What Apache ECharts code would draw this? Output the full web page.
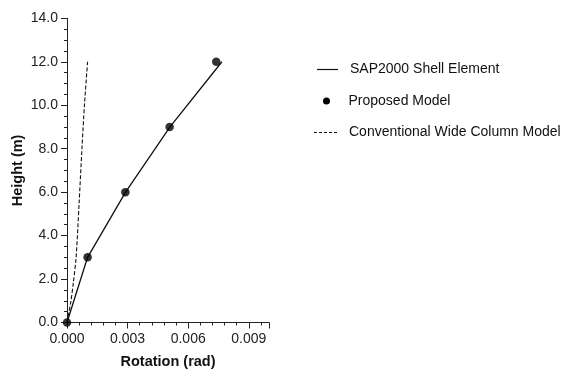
<!DOCTYPE html>
<html><head><meta charset="utf-8">
<script src="https://cdn.jsdelivr.net/npm/echarts@6/dist/echarts.min.js"></script>
<style>html,body{margin:0;padding:0;background:#fff}#c{width:568px;height:372px}</style>
</head><body><div id="c"></div>
<script>
const seriesNames = ['SAP2000 Shell Element', 'Proposed Model', 'Conventional Wide Column Model'];
const sapRotation = [0, 0.00102, 0.0029, 0.0051, 0.00767];
const sapHeight = [0, 3, 6, 9, 12];
const proposedRotation = [0, 0.00102, 0.00289, 0.00508, 0.00739];
const proposedHeight = [0, 3, 6, 9, 12];
const convRotation = [0, 0.00018, 0.00031, 0.00045, 0.0006, 0.00074, 0.00087, 0.00102];
const convHeight = [0, 0.9, 1.8, 3, 5.5, 8, 10.1, 12];
const xTicks = [0, 0.003, 0.006, 0.009];
const yTicks = [0, 2, 4, 6, 8, 10, 12, 14];

const zip = (a, b) => a.map((v, i) => [v, b[i]]);
const font = 'Liberation Sans, Arial, sans-serif';
const chart = echarts.init(document.getElementById('c'), null, {renderer: 'canvas'});
const legendText = (x, y, t) => ({type: 'text', x: x, y: y,
  style: {text: t, fontFamily: font, fontSize: 14, fill: '#111', verticalAlign: 'middle', align: 'left'}});
chart.setOption({
  animation: false,
  backgroundColor: '#fff',
  grid: {left: 67, right: 299, top: 18.3, bottom: 49.5, containLabel: false, outerBoundsMode: 'none'},
  xAxis: {
    type: 'value', min: 0, max: 0.01, interval: 0.003,
    name: 'Rotation (rad)', nameLocation: 'middle', nameGap: 32,
    nameTextStyle: {fontFamily: font, fontSize: 14.5, fontWeight: 'bold', color: '#111'},
    axisLine: {show: true, lineStyle: {color: '#222', width: 1}},
    axisTick: {show: true, length: 6, lineStyle: {color: '#222'}},
    minorTick: {show: true, splitNumber: 5, length: 3, lineStyle: {color: '#222'}},
    splitLine: {show: false},
    axisLabel: {fontFamily: font, fontSize: 14, color: '#222', margin: 10,
      formatter: v => xTicks.some(t => Math.abs(t - v) < 1e-9) ? v.toFixed(3) : ''}
  },
  yAxis: {
    type: 'value', min: 0, max: 14, interval: 2,
    name: 'Height (m)', nameLocation: 'middle', nameGap: 42, nameRotate: 90,
    nameTextStyle: {fontFamily: font, fontSize: 14.5, fontWeight: 'bold', color: '#111'},
    axisLine: {show: true, lineStyle: {color: '#222', width: 1}},
    axisTick: {show: true, length: 6, lineStyle: {color: '#222'}},
    minorTick: {show: true, splitNumber: 4, length: 3, lineStyle: {color: '#222'}},
    splitLine: {show: false},
    axisLabel: {fontFamily: font, fontSize: 14, color: '#222', margin: 9,
      formatter: v => yTicks.includes(v) ? v.toFixed(1) : ''}
  },
  graphic: [
    {type: 'line', shape: {x1: 317, y1: 69.5, x2: 338, y2: 69.5}, style: {stroke: '#111', lineWidth: 1.2}},
    legendText(350, 69.5, seriesNames[0]),
    {type: 'circle', shape: {cx: 326.5, cy: 101, r: 3.5}, style: {fill: '#000'}},
    legendText(348.5, 101, seriesNames[1]),
    {type: 'line', shape: {x1: 314, y1: 132.5, x2: 337, y2: 132.5}, style: {stroke: '#111', lineWidth: 1, lineDash: [3, 2]}},
    legendText(349, 132.5, seriesNames[2])
  ],
  series: [
    {name: seriesNames[0], type: 'line', data: zip(sapRotation, sapHeight), symbol: 'none',
      lineStyle: {color: '#111', width: 1.3}, itemStyle: {color: '#111'}, z: 2},
    {name: seriesNames[1], type: 'scatter', data: zip(proposedRotation, proposedHeight),
      symbol: 'circle', symbolSize: 8.5, itemStyle: {color: '#000'}, z: 3},
    {name: seriesNames[2], type: 'line', data: zip(convRotation, convHeight), symbol: 'none', smooth: 0.3,
      lineStyle: {color: '#111', width: 1.1, type: [4, 2]}, itemStyle: {color: '#111'}, z: 2}
  ]
});
</script></body></html>
